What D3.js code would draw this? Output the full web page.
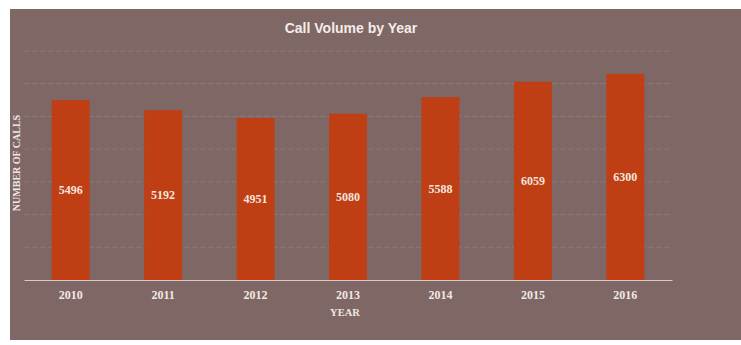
<!DOCTYPE html>
<html>
<head>
    <meta charset="utf-8">
    <title>Call Volume by Year</title>
    <script src="https://d3js.org/d3.v7.min.js"></script>
    <style>
      body { margin: 0; background: #fff; }
    </style>
</head>
<body>
<div id="chart"></div>
<script type="text/javascript">
    // data
    let years = ["2010", "2011", "2012", "2013", "2014", "2015", "2016"];
    let calls = [5496, 5192, 4951, 5080, 5588, 6059, 6300];
    let gridTicks = [1000, 2000, 3000, 4000, 5000, 6000, 7000];

    let W = 741, H = 345;
    let margin = {top: 51, right: 69, bottom: 65, left: 24};
    let w = W - margin.left - margin.right;
    let h = H - margin.top - margin.bottom;

    let svg = d3.select("#chart")
            .append("svg")
                .attr("width", W)
                .attr("height", H);

    // chart background panel
    svg.append("rect")
        .attr("x", 10)
        .attr("y", 9)
        .attr("width", W - 10)
        .attr("height", 331)
        .attr("fill", "#7e6764");

    let g = svg.append("g")
        .attr("transform", "translate(" + margin.left + "," + margin.top + ")");

    let xScale = d3.scaleBand()
        .domain(years)
        .range([0, w])
        .paddingInner(0.59)
        .paddingOuter(0.3);
    let yScale = d3.scaleLinear()
        .domain([0, 7000])
        .range([h, 0]);

    // faint gridlines
    g.selectAll("line.grid")
        .data(gridTicks)
        .enter()
        .append("line")
            .attr("class", "grid")
            .attr("x1", 0)
            .attr("x2", w)
            .attr("y1", d => yScale(d))
            .attr("y2", d => yScale(d))
            .attr("stroke", "#a08e8c")
            .attr("stroke-width", 1)
            .attr("stroke-dasharray", "6,2")
            .attr("opacity", 0.45);

    g.selectAll("rect.bar")
        .data(calls)
        .enter()
        .append("rect")
            .attr("class", "bar")
            .attr("x", (d, i) => xScale(years[i]))
            .attr("y", d => yScale(d))
            .attr("width", xScale.bandwidth())
            .attr("height", d => h - yScale(d))
            .attr("fill", "#bf3e13");

    g.selectAll("text.val")
        .data(calls)
        .enter()
        .append("text")
            .attr("class", "val")
            .attr("x", (d, i) => xScale(years[i]) + xScale.bandwidth() / 2)
            .attr("y", d => (yScale(d) + h) / 2)
            .attr("dy", "0.35em")
            .attr("text-anchor", "middle")
            .attr("font-family", "Liberation Serif, serif")
            .attr("font-weight", "bold")
            .attr("font-size", "12px")
            .attr("fill", "#f4e6df")
            .text(d => d);

    // x axis
    let xAxis = d3.axisBottom(xScale).tickSize(0).tickPadding(10);
    let ax = g.append("g")
        .attr("transform", "translate(0," + h + ")")
        .call(xAxis);
    ax.select(".domain").attr("stroke", "#d6c9c7").attr("stroke-width", 1.2);
    ax.selectAll("text")
        .attr("font-family", "Liberation Serif, serif")
        .attr("font-weight", "bold")
        .attr("font-size", "12px")
        .attr("fill", "#f1e7e4");

    svg.append("text")
        .attr("x", 345)
        .attr("y", 316)
        .attr("text-anchor", "middle")
        .attr("font-family", "Liberation Serif, serif")
        .attr("font-weight", "bold")
        .attr("font-size", "10.5px")
        .attr("fill", "#f1e7e4")
        .text("YEAR");

    svg.append("text")
        .attr("transform", "translate(20,163) rotate(-90)")
        .attr("text-anchor", "middle")
        .attr("font-family", "Liberation Serif, serif")
        .attr("font-weight", "bold")
        .attr("font-size", "10px")
        .attr("fill", "#f1e7e4")
        .text("NUMBER OF CALLS");

    svg.append("text")
        .attr("x", 351)
        .attr("y", 33)
        .attr("text-anchor", "middle")
        .attr("font-family", "Liberation Sans, sans-serif")
        .attr("font-weight", "bold")
        .attr("font-size", "14px")
        .attr("fill", "#f4ecea")
        .text("Call Volume by Year");
</script>
</body>
</html>
